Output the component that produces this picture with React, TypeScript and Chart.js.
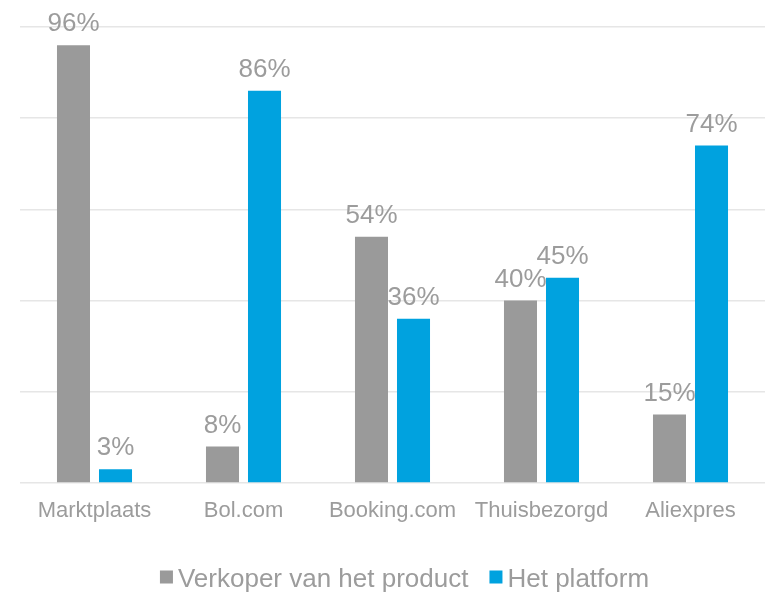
import React, { useEffect, useRef } from "react";
import { Chart, registerables } from "chart.js";

Chart.register(...registerables);

const categories = ["Marktplaats", "Bol.com", "Booking.com", "Thuisbezorgd", "Aliexpres"];
const verkoperValues = [96, 8, 54, 40, 15];
const platformValues = [3, 86, 36, 45, 74];
const seriesNames = ["Verkoper van het product", "Het platform"];
const yTicks = [0, 20, 40, 60, 80, 100];

const GREY = "#9a9a9a";
const BLUE = "#00a2df";
const TEXT = "#9c9c9c";
const FONT = "'Liberation Sans', Arial, Helvetica, sans-serif";

const valueLabels = {
  id: "valueLabels",
  afterDatasetsDraw(chart: any) {
    const ctx = chart.ctx;
    ctx.save();
    ctx.font = `26px ${FONT}`;
    ctx.fillStyle = TEXT;
    ctx.textAlign = "center";
    ctx.textBaseline = "alphabetic";
    chart.data.datasets.forEach((ds: any, di: number) => {
      const meta = chart.getDatasetMeta(di);
      meta.data.forEach((bar: any, i: number) => {
        ctx.fillText(`${ds.data[i]}%`, bar.x, bar.y - 14);
      });
    });
    ctx.restore();
  },
};

// Legend drawn from the datasets (label + colour), laid out like the reference
const bottomLegend = {
  id: "bottomLegend",
  afterDraw(chart: any) {
    const ctx = chart.ctx;
    ctx.save();
    ctx.font = `26px ${FONT}`;
    const box = 13;
    const boxGap = 5;
    const itemGap = 21;
    const items = chart.data.datasets.map((ds: any) => ({
      text: ds.label,
      color: ds.backgroundColor,
      w: ctx.measureText(ds.label).width,
    }));
    const total =
      items.reduce((s: number, it: any) => s + box + boxGap + it.w, 0) + itemGap * (items.length - 1);
    let x = 404.5 - total / 2;
    const cy = 577;
    items.forEach((it: any) => {
      ctx.fillStyle = it.color;
      ctx.fillRect(x, cy - box / 2, box, box);
      x += box + boxGap;
      ctx.fillStyle = TEXT;
      ctx.textAlign = "left";
      ctx.textBaseline = "alphabetic";
      ctx.fillText(it.text, x, cy + 9.5);
      x += it.w + itemGap;
    });
    ctx.restore();
  },
};

export default function App() {
  const ref = useRef<HTMLCanvasElement | null>(null);
  useEffect(() => {
    document.body.style.margin = "0";
    const chart = new Chart(ref.current as HTMLCanvasElement, {
      type: "bar",
      data: {
        labels: categories,
        datasets: [
          {
            label: seriesNames[0],
            data: verkoperValues,
            backgroundColor: GREY,
            categoryPercentage: 0.564,
            barPercentage: 0.786,
          },
          {
            label: seriesNames[1],
            data: platformValues,
            backgroundColor: BLUE,
            categoryPercentage: 0.564,
            barPercentage: 0.786,
          },
        ],
      },
      options: {
        responsive: false,
        animation: false,
        layout: { padding: { left: 20, right: 1, top: 27, bottom: 0 } },
        plugins: {
          tooltip: { enabled: false },
          legend: { display: false },
        },
        scales: {
          x: {
            grid: { display: false },
            border: { display: false },
            ticks: {
              color: TEXT,
              font: { size: 22, family: FONT },
              padding: 7,
              maxRotation: 0,
            },
            afterFit: (s: any) => {
              s.height = 109;
            },
          },
          y: {
            min: 0,
            max: 100,
            afterBuildTicks: (s: any) => {
              s.ticks = yTicks.map((v) => ({ value: v }));
            },
            ticks: { display: false },
            grid: { color: "#e6e6e6", lineWidth: 1.5, drawTicks: false },
            border: { display: false },
            afterFit: (s: any) => {
              s.width = 0;
            },
          },
        },
      },
      plugins: [valueLabels, bottomLegend],
    });
    return () => chart.destroy();
  }, []);
  return (
    <div style={{ width: 766, height: 592, background: "#fff" }}>
      <canvas ref={ref} width={766} height={592} style={{ display: "block" }} />
    </div>
  );
}
